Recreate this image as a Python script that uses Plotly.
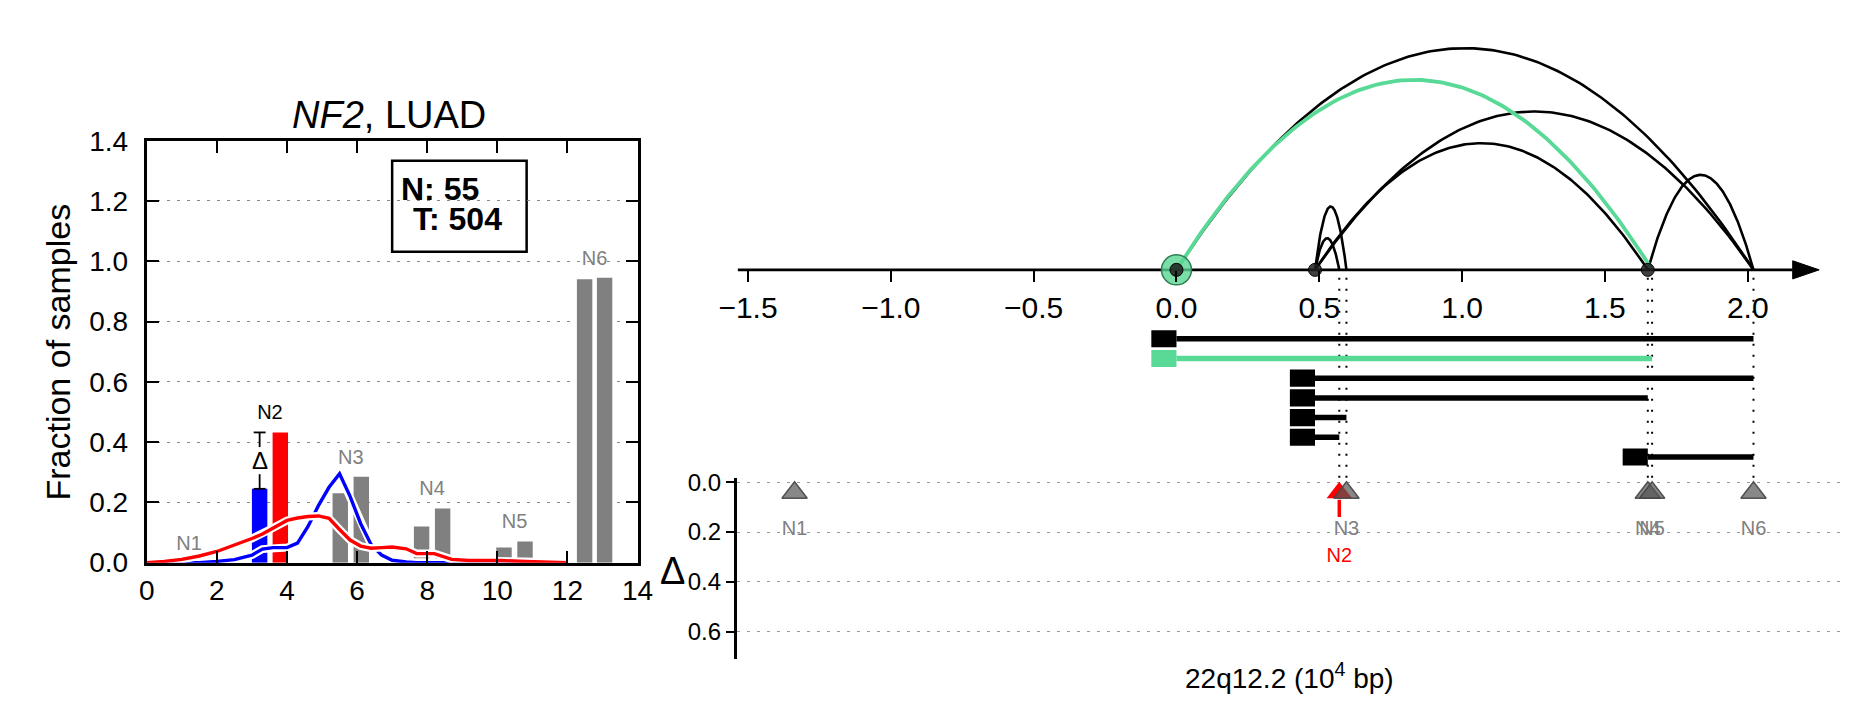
import numpy as np
import plotly.graph_objects as go

W, H = 1851, 718
FONT = "Liberation Sans, Arial, Helvetica, sans-serif"

# ---------------- left panel data ----------------
clusters = ["N1", "N2", "N3", "N4", "N5", "N6"]
normal_pos = [0.91, 3.22, 5.52, 7.84, 10.19, 12.49]
tumor_pos = [1.50, 3.81, 6.12, 8.44, 10.79, 13.06]
normal_frac = [0.0, 0.245, 0.23, 0.12, 0.05, 0.94]
tumor_frac = [0.0, 0.432, 0.285, 0.18, 0.07, 0.945]
highlight_cluster = "N2"
n_normal, n_tumor = 55, 504
gene, cohort = "NF2", "LUAD"

density_x = [0.0, 0.5, 1.0, 1.5, 2.0, 2.5, 3.0, 3.3, 3.6, 4.0, 4.3, 4.6, 4.9, 5.2,
             5.5, 5.8, 6.1, 6.4, 6.7, 7.0, 7.4, 7.7, 8.2, 8.7, 9.2, 10.1, 10.8, 12.0]
normal_density = [0.0, 0.0, 0.0, 0.0, 0.004, 0.01, 0.025, 0.045, 0.05, 0.05, 0.065, 0.12,
                  0.19, 0.25, 0.295, 0.22, 0.13, 0.06, 0.025, 0.008, 0.002, 0.0, 0.0, 0.0,
                  0.0, 0.0, 0.0, 0.0]
tumor_density = [0.0, 0.004, 0.011, 0.022, 0.037, 0.058, 0.08, 0.095, 0.115, 0.14, 0.148,
                 0.153, 0.155, 0.147, 0.11, 0.075, 0.055, 0.048, 0.05, 0.052, 0.046, 0.03,
                 0.03, 0.011, 0.007, 0.007, 0.004, 0.0]

# ---------------- right panel data ----------------
tx_start = [0.0, 0.0, 0.485, 0.485, 0.485, 0.485, 1.65]
tx_end = [2.02, 1.665, 2.02, 1.65, 0.595, 0.57, 2.02]
highlight_tx = 1
breakpoints = [0.485, 1.65]
node_names = ["N1", "N2", "N3", "N4", "N5", "N6"]
node_pos = [-1.337, 0.57, 0.595, 1.65, 1.665, 2.02]
axis_ticks = [-1.5, -1.0, -0.5, 0.0, 0.5, 1.0, 1.5, 2.0]
delta_ticks = [0.0, 0.2, 0.4, 0.6]
region_label = "22q12.2 (10<sup>4</sup> bp)"

BLUE, RED, GRAY = "#0000ff", "#ff0000", "#808080"
GREEN = "#59d996"


def px(x):
    return x / W


def py(y):
    return 1 - y / H


def note(x, y, text, size, color="black", **kw):
    fig.add_annotation(x=px(x), y=py(y), xref="paper", yref="paper", showarrow=False,
                       xanchor=kw.pop("xanchor", "center"), yanchor=kw.pop("yanchor", "middle"),
                       text=text, font=dict(family=FONT, size=size, color=color), **kw)


fig = go.Figure()

# ======== left panel ========
hi_i = clusters.index(highlight_cluster)
ncol = [BLUE if c == highlight_cluster else GRAY for c in clusters]
tcol = [RED if c == highlight_cluster else GRAY for c in clusters]
fig.add_trace(go.Bar(x=normal_pos, y=normal_frac, width=0.44, marker=dict(color=ncol, line_width=0),
                     xaxis="x", yaxis="y"))
fig.add_trace(go.Bar(x=tumor_pos, y=tumor_frac, width=0.44, marker=dict(color=tcol, line_width=0),
                     xaxis="x", yaxis="y"))

for dens, col in [(normal_density, BLUE), (tumor_density, RED)]:
    fig.add_trace(go.Scatter(x=density_x, y=dens, mode="lines", line=dict(color="white", width=8),
                             xaxis="x", yaxis="y"))
    fig.add_trace(go.Scatter(x=density_x, y=dens, mode="lines", line=dict(color=col, width=3.4),
                             xaxis="x", yaxis="y"))

# cluster labels
lab_x = [(a + b) / 2 for a, b in zip(normal_pos, tumor_pos)]
lab_y = [max(a, b) + 0.06 for a, b in zip(normal_frac, tumor_frac)]
fig.add_trace(go.Scatter(x=lab_x, y=lab_y, mode="text", text=clusters,
                         textfont=dict(family=FONT, size=20,
                                       color=["black" if c == highlight_cluster else GRAY for c in clusters]),
                         xaxis="x", yaxis="y"))

# delta indicator between normal and tumor of highlighted cluster
dxp = normal_pos[hi_i]
lo, hi = normal_frac[hi_i], tumor_frac[hi_i]
mid = (lo + hi) / 2
gap, cap = 0.045, 0.17
fig.add_trace(go.Scatter(
    x=[dxp, dxp, None, dxp, dxp, None, dxp - cap, dxp + cap, None, dxp - cap, dxp + cap],
    y=[lo, mid - gap, None, mid + gap, hi, None, lo, lo, None, hi, hi],
    mode="lines", line=dict(color="black", width=1.8), xaxis="x", yaxis="y"))
fig.add_annotation(x=dxp, y=mid, xref="x", yref="y", text="Δ", showarrow=False,
                   xanchor="center", yanchor="middle",
                   font=dict(family=FONT, size=24, color="black"))

# ======== right panel: arcs ========
spans = np.array(tx_end) - np.array(tx_start)
rank = spans.argsort().argsort() + 1
t = np.linspace(0, 1, 160)
order = [i for i in range(len(tx_start)) if i != highlight_tx] + [highlight_tx]
for i in order:
    s, e = tx_start[i], tx_end[i]
    xs = s + (e - s) * t
    ys = rank[i] * 4 * t * (1 - t)
    col = GREEN if i == highlight_tx else "black"
    fig.add_trace(go.Scatter(x=xs, y=ys, mode="lines",
                             line=dict(color=col, width=3.8 if i == highlight_tx else 2.6),
                             xaxis="x2", yaxis="y2"))

# main genomic axis line with arrow
x2_range = [(724 - 1172) / 291, (1851 - 1172) / 291]
y2_range = [-(480 - 258) / 33.1, 258 / 33.1]
tip = 2.25
base = tip - 27 / 291
hh = 9.5 / 33.1
fig.add_trace(go.Scatter(x=[x2_range[0] + 0.004, base], y=[0, 0], mode="lines",
                         line=dict(color="black", width=2.6), xaxis="x2", yaxis="y2"))
fig.add_shape(type="path", path=f"M {tip},0 L {base},{hh} L {base},{-hh} Z",
              xref="x2", yref="y2", fillcolor="black", line=dict(color="black", width=1))

# dotted guides from axis to node triangles
for p in node_pos:
    if p >= min(tx_start):
        fig.add_trace(go.Scatter(x=[p, p], y=[-0.25, y2_range[0]], mode="lines",
                                 line=dict(color="black", width=2, dash="2px,9px"),
                                 xaxis="x2", yaxis="y2"))

# transcripts rows
row0, row_step = (330 - 258) / 33.1, 20.6 / 33.1
box_w, box_h = 0.088, 0.27
for i, (s, e) in enumerate(zip(tx_start, tx_end)):
    yr = -(row0 + row_step * i)
    col = GREEN if i == highlight_tx else "black"
    fig.add_trace(go.Scatter(x=[s, e], y=[yr, yr], mode="lines", line=dict(color=col, width=5.5),
                             xaxis="x2", yaxis="y2"))
    fig.add_shape(type="rect", x0=s - box_w, x1=s, y0=yr - box_h, y1=yr + box_h,
                  xref="x2", yref="y2", fillcolor=col, line=dict(width=0))

# breakpoint markers
hs = tx_start[highlight_tx]
fig.add_trace(go.Scatter(x=[hs], y=[0], mode="markers",
                         marker=dict(size=30, color="rgba(88,214,146,0.8)",
                                     line=dict(color="#2e7d52", width=1.5)),
                         xaxis="x2", yaxis="y2"))
fig.add_trace(go.Scatter(x=[hs] + breakpoints, y=[0] * (1 + len(breakpoints)), mode="markers",
                         marker=dict(size=13, color="rgba(30,30,30,0.85)",
                                     line=dict(color="black", width=1)),
                         xaxis="x2", yaxis="y2"))

# ======== bottom panel: nodes ========
tri_y = 0.042
hi_node = node_names.index(highlight_cluster)
fig.add_trace(go.Scatter(x=[node_pos[hi_node]], y=[tri_y], mode="markers",
                         marker=dict(symbol="triangle-up", size=22, color=RED, line=dict(width=0)),
                         xaxis="x3", yaxis="y3"))
fig.add_trace(go.Scatter(x=[node_pos[hi_node]] * 2, y=[0.07, 0.14], mode="lines",
                         line=dict(color=RED, width=3.5), xaxis="x3", yaxis="y3"))
fig.add_trace(go.Scatter(x=[node_pos[hi_node]], y=[0.30], mode="text", text=[highlight_cluster],
                         textfont=dict(family=FONT, size=20, color=RED), xaxis="x3", yaxis="y3"))
others = [k for k in range(len(node_names)) if k != hi_node]
fig.add_trace(go.Scatter(x=[node_pos[k] for k in others], y=[tri_y] * len(others), mode="markers",
                         marker=dict(symbol="triangle-up", size=22, color="rgba(85,85,85,0.7)",
                                     line=dict(color="rgba(70,70,70,0.9)", width=1.5)),
                         xaxis="x3", yaxis="y3"))
fig.add_trace(go.Scatter(x=[node_pos[k] for k in others], y=[0.19] * len(others), mode="text",
                         text=[node_names[k] for k in others],
                         textfont=dict(family=FONT, size=20, color=GRAY), xaxis="x3", yaxis="y3"))

# ======== annotations ========
note(370, 96, f"<i>{gene}</i>, {cohort}", 38)
note(33, 344, "Fraction of samples", 34, textangle=-90)
fig.add_shape(type="rect", xref="paper", yref="paper", x0=px(373), x1=px(510), y0=py(239), y1=py(144),
              line=dict(color="black", width=2.5), fillcolor="white", layer="below")
note(380, 173, f"<b>N: {n_normal}</b>", 32, xanchor="left")
note(392, 205, f"<b>T: {n_tumor}</b>", 32, xanchor="left")
note(659, 573, "Δ", 38)
note(1287, 682, region_label, 28)

grid_dash = "3px,7px"
fig.update_layout(
    width=W, height=H, autosize=False, margin=dict(l=0, r=0, t=0, b=0),
    paper_bgcolor="white", plot_bgcolor="white", showlegend=False, barmode="overlay",
    font=dict(family=FONT, color="black"),
    xaxis=dict(domain=[px(123), px(623)], range=[0, 14], tickvals=list(range(0, 15, 2)),
               ticks="inside", ticklen=12, tickwidth=2, tickcolor="black",
               showline=True, linewidth=3, linecolor="black", mirror="ticks",
               showgrid=False, zeroline=False, tickfont=dict(size=28), anchor="y",
               ticklabelstandoff=1),
    yaxis=dict(domain=[py(564), py(123)], range=[0, 1.4], tickvals=[0, 0.2, 0.4, 0.6, 0.8, 1.0, 1.2, 1.4],
               tickformat=".1f", ticks="inside", ticklen=12, tickwidth=2, tickcolor="black",
               showline=True, linewidth=3, linecolor="black", mirror="ticks",
               showgrid=True, gridcolor="#888888", griddash=grid_dash, gridwidth=1.2,
               zeroline=False, tickfont=dict(size=28), anchor="x", ticklabelstandoff=10),
    xaxis2=dict(domain=[px(724), 1], range=x2_range, anchor="free", position=py(258),
                tickvals=axis_ticks, tickformat=".1f", ticks="outside", ticklen=11, tickwidth=1.5,
                tickcolor="black", showline=False, showgrid=False, zeroline=False,
                tickfont=dict(size=30)),
    yaxis2=dict(domain=[py(480), 1], range=y2_range, anchor="x2", visible=False),
    xaxis3=dict(domain=[px(724), 1], range=x2_range, anchor="y3", visible=False),
    yaxis3=dict(domain=[py(665), py(476)], range=[(665 - 480) / 260, (476 - 480) / 260], anchor="x3",
                tickvals=delta_ticks, tickformat=".1f", ticks="outside", ticklen=8, tickwidth=2,
                tickcolor="black", showline=True, linewidth=2.5, linecolor="black",
                showgrid=True, gridcolor="#999999", griddash=grid_dash, gridwidth=1.2,
                zeroline=False, tickfont=dict(size=24)),
)

fig.write_html("out.html")
